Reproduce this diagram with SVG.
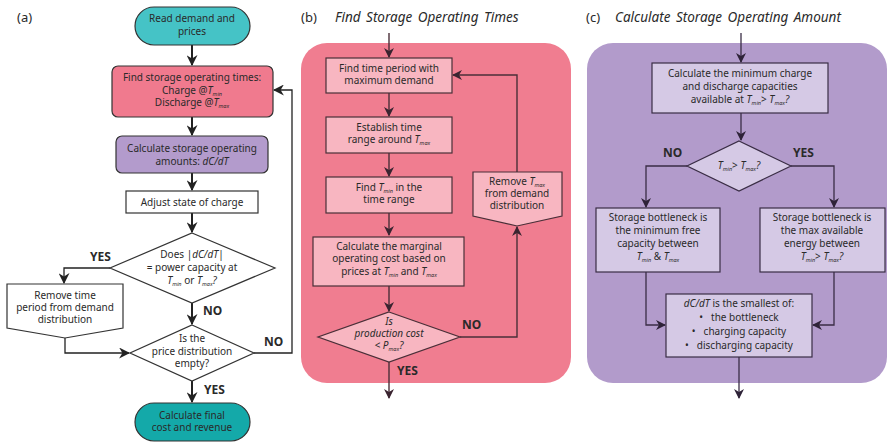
<svg xmlns="http://www.w3.org/2000/svg" width="887" height="442" viewBox="0 0 887 442">
  <defs>
    <style>
      text { font-family: "Noto Sans", "Open Sans", sans-serif; font-size: 10px; fill: #2a2a2a; text-anchor: middle; }
      .panel { font-size: 13px; text-anchor: start; }
      .title { font-size: 13.5px; font-style: italic; text-anchor: start; word-spacing: 2px; }
      .lbl { font-size: 12px; font-weight: bold; text-anchor: start; }
      .it { font-style: italic; }
      .sub { font-size: 5.5px; font-style: italic; }
      .edge-a { fill: none; stroke: #222; stroke-width: 2; }
      .edge-a-thin { fill: none; stroke: #222; stroke-width: 1.3; }
      .edge-b { fill: none; stroke: #4a2f38; stroke-width: 1.4; }
      .edge-c { fill: none; stroke: #3a2d45; stroke-width: 1.3; }
      .stroke-a { stroke: #333; stroke-width: 1.2; }
      .stroke-b { stroke: #4a2f38; stroke-width: 1.2; }
      .stroke-c { stroke: #3a2d45; stroke-width: 1.2; }
    </style>
    <marker id="arrA2" viewBox="0 0 10 10" refX="9" refY="5" markerWidth="11" markerHeight="11" markerUnits="userSpaceOnUse" orient="auto">
      <path d="M0,0 L10,5 L0,10 L3,5 z" fill="#222"/>
    </marker>
    <marker id="arrB" viewBox="0 0 10 10" refX="9" refY="5" markerWidth="10" markerHeight="10" markerUnits="userSpaceOnUse" orient="auto">
      <path d="M0,0 L10,5 L0,10 L3,5 z" fill="#3a2430"/>
    </marker>
    <marker id="arrC" viewBox="0 0 10 10" refX="9" refY="5" markerWidth="10" markerHeight="10" markerUnits="userSpaceOnUse" orient="auto">
      <path d="M0,0 L10,5 L0,10 L3,5 z" fill="#2e2338"/>
    </marker>
  </defs>

  <rect width="887" height="442" fill="#ffffff"/>

  <!-- panel labels and titles -->
  <text class="panel" x="17" y="22">(a)</text>
  <text class="panel" x="301" y="22">(b)</text>
  <text class="title" x="335" y="22">Find Storage Operating Times</text>
  <text class="panel" x="586" y="22">(c)</text>
  <text class="title" x="615" y="22">Calculate Storage Operating Amount</text>

  <!-- panel containers -->
  <rect id="panel-b" x="301" y="43" width="270" height="340" rx="26" fill="#f07d90"/>
  <rect id="panel-c" x="587" y="43" width="300" height="340" rx="26" fill="#b29bcb"/>

  <!-- connectors -->
  <g id="connectors">
    <!-- panel (a) -->
    <path class="edge-a" d="M192,45 V65" marker-end="url(#arrA2)"/>
    <path class="edge-a" d="M192,117 V135" marker-end="url(#arrA2)"/>
    <path class="edge-a" d="M192,173 V190" marker-end="url(#arrA2)"/>
    <path class="edge-a" d="M192,213 V232" marker-end="url(#arrA2)"/>
    <path class="edge-a-thin" d="M110,268 H64 V283" marker-end="url(#arrA2)"/>
    <path class="edge-a" d="M192,303 V324" marker-end="url(#arrA2)"/>
    <path class="edge-a-thin" d="M65,338 V353 H129" marker-end="url(#arrA2)"/>
    <path class="edge-a-thin" d="M254,353 H292 V90 H274" marker-end="url(#arrA2)"/>
    <path class="edge-a" d="M192,381 V402" marker-end="url(#arrA2)"/>
    <!-- panel (b) -->
    <path class="edge-b" d="M389,33 V57" marker-end="url(#arrB)"/>
    <path class="edge-b" d="M389,93 V116" marker-end="url(#arrB)"/>
    <path class="edge-b" d="M389,153 V176" marker-end="url(#arrB)"/>
    <path class="edge-b" d="M389,213 V235" marker-end="url(#arrB)"/>
    <path class="edge-b" d="M389,286 V311" marker-end="url(#arrB)"/>
    <path class="edge-b" d="M460,337 H517 V227" marker-end="url(#arrB)"/>
    <path class="edge-b" d="M517,172 V75 H453" marker-end="url(#arrB)"/>
    <path class="edge-b" d="M389,362 V398" marker-end="url(#arrB)"/>
    <!-- panel (c) -->
    <path class="edge-c" d="M741,33 V62" marker-end="url(#arrC)"/>
    <path class="edge-c" d="M741,113 V140" marker-end="url(#arrC)"/>
    <path class="edge-c" d="M687,166 H646 V207" marker-end="url(#arrC)"/>
    <path class="edge-c" d="M791,166 H834 V207" marker-end="url(#arrC)"/>
    <path class="edge-c" d="M646,272 V325 H665" marker-end="url(#arrC)"/>
    <path class="edge-c" d="M834,272 V325 H813" marker-end="url(#arrC)"/>
    <path class="edge-c" d="M739,357 V398" marker-end="url(#arrC)"/>
  </g>

  <!-- edge labels -->
  <text class="lbl" x="90" y="261">YES</text>
  <text class="lbl" x="203" y="315">NO</text>
  <text class="lbl" x="264" y="346">NO</text>
  <text class="lbl" x="204" y="394">YES</text>
  <text class="lbl" x="462" y="329">NO</text>
  <text class="lbl" x="397" y="375">YES</text>
  <text class="lbl" x="663" y="157">NO</text>
  <text class="lbl" x="793" y="157">YES</text>

  <!-- ===== panel (a) nodes ===== -->
  <g id="a-start">
    <rect x="135" y="7" width="115" height="38" rx="19" fill="#45c3c6" class="stroke-a"/>
    <text x="192" y="22">Read demand and</text>
    <text x="192" y="35">prices</text>
  </g>
  <g id="a-find-times">
    <rect x="112" y="66" width="161" height="51" rx="6" fill="#f07a8e" class="stroke-a"/>
    <text x="192" y="81">Find storage operating times:</text>
    <text x="192" y="94">Charge @<tspan class="it">T</tspan><tspan class="sub" dy="2">min</tspan></text>
    <text x="192" y="106">Discharge @<tspan class="it">T</tspan><tspan class="sub" dy="2">max</tspan></text>
  </g>
  <g id="a-calc-amounts">
    <rect x="116" y="136" width="152" height="37" rx="6" fill="#b39bcc" class="stroke-a"/>
    <text x="192" y="152">Calculate storage operating</text>
    <text x="192" y="165">amounts: <tspan class="it">dC/dT</tspan></text>
  </g>
  <g id="a-adjust">
    <rect x="126" y="191" width="132" height="22" fill="#ffffff" class="stroke-a"/>
    <text x="192" y="206">Adjust state of charge</text>
  </g>
  <g id="a-power-check">
    <polygon points="192,233 275,268 192,303 110,268" fill="#ffffff" class="stroke-a"/>
    <text x="192" y="258">Does |<tspan class="it">dC/dT</tspan>|</text>
    <text x="192" y="271">= power capacity at</text>
    <text x="192" y="284"><tspan class="it">T</tspan><tspan class="sub" dy="2">min</tspan><tspan dy="-2"> or </tspan><tspan class="it">T</tspan><tspan class="sub" dy="2">max</tspan><tspan class="it" dy="-2">?</tspan></text>
  </g>
  <g id="a-remove">
    <polygon points="7,284 123,284 123,328 65,338 7,328" fill="#ffffff" class="stroke-a"/>
    <text x="65" y="299">Remove time</text>
    <text x="65" y="311">period from demand</text>
    <text x="65" y="323">distribution</text>
  </g>
  <g id="a-empty-check">
    <polygon points="192,325 254,353 192,381 130,353" fill="#ffffff" class="stroke-a"/>
    <text x="192" y="342">Is the</text>
    <text x="192" y="355">price distribution</text>
    <text x="192" y="367">empty?</text>
  </g>
  <g id="a-end">
    <rect x="135" y="403" width="115" height="38" rx="19" fill="#14a9a9" class="stroke-a"/>
    <text x="192" y="419">Calculate final</text>
    <text x="192" y="431">cost and revenue</text>
  </g>

  <!-- ===== panel (b) nodes ===== -->
  <g id="b-max-demand">
    <rect x="326" y="58" width="126" height="35" fill="#f8b6c1" class="stroke-b"/>
    <text x="389" y="72">Find time period with</text>
    <text x="389" y="84">maximum demand</text>
  </g>
  <g id="b-range">
    <rect x="326" y="117" width="126" height="36" fill="#f8b6c1" class="stroke-b"/>
    <text x="389" y="131">Establish time</text>
    <text x="389" y="143">range around <tspan class="it">T</tspan><tspan class="sub" dy="2">max</tspan></text>
  </g>
  <g id="b-find-tmin">
    <rect x="326" y="177" width="126" height="36" fill="#f8b6c1" class="stroke-b"/>
    <text x="389" y="191">Find <tspan class="it">T</tspan><tspan class="sub" dy="2">min</tspan><tspan dy="-2"> in the</tspan></text>
    <text x="389" y="203">time range</text>
  </g>
  <g id="b-marginal">
    <rect x="313" y="237" width="151" height="49" fill="#f8b6c1" class="stroke-b"/>
    <text x="389" y="250">Calculate the marginal</text>
    <text x="389" y="262">operating cost based on</text>
    <text x="389" y="275">prices at <tspan class="it">T</tspan><tspan class="sub" dy="2">min</tspan><tspan dy="-2"> and </tspan><tspan class="it">T</tspan><tspan class="sub" dy="2">max</tspan></text>
  </g>
  <g id="b-cost-check">
    <polygon points="389,312 460,337 389,362 318,337" fill="#f8b6c1" class="stroke-b"/>
    <text class="it" x="389" y="325">Is</text>
    <text class="it" x="389" y="337">production cost</text>
    <text class="it" x="389" y="349">&lt; P<tspan class="sub" dy="2">max</tspan><tspan dy="-2">?</tspan></text>
  </g>
  <g id="b-remove">
    <polygon points="473,172 562,172 562,216 517,226 473,216" fill="#f8b6c1" class="stroke-b"/>
    <text x="517" y="185">Remove <tspan class="it">T</tspan><tspan class="sub" dy="2">max</tspan></text>
    <text x="517" y="197">from demand</text>
    <text x="517" y="209">distribution</text>
  </g>

  <!-- ===== panel (c) nodes ===== -->
  <g id="c-min-capacity">
    <rect x="652" y="63" width="176" height="50" fill="#d5c9e5" class="stroke-c"/>
    <text x="740" y="77">Calculate the minimum charge</text>
    <text x="740" y="90">and discharge capacities</text>
    <text x="740" y="103">available at <tspan class="it">T</tspan><tspan class="sub" dy="2">min</tspan><tspan dy="-2">&gt; </tspan><tspan class="it">T</tspan><tspan class="sub" dy="2">max</tspan><tspan class="it" dy="-2">?</tspan></text>
  </g>
  <g id="c-compare">
    <polygon points="739,141 791,166 739,191 687,166" fill="#d5c9e5" class="stroke-c"/>
    <text x="739" y="169"><tspan class="it">T</tspan><tspan class="sub" dy="2">min</tspan><tspan dy="-2">&gt; </tspan><tspan class="it">T</tspan><tspan class="sub" dy="2">max</tspan><tspan class="it" dy="-2">?</tspan></text>
  </g>
  <g id="c-free-capacity">
    <rect x="596" y="208" width="124" height="64" fill="#d5c9e5" class="stroke-c"/>
    <text x="658" y="221">Storage bottleneck is</text>
    <text x="658" y="234">the minimum free</text>
    <text x="658" y="247">capacity between</text>
    <text x="658" y="260"><tspan class="it">T</tspan><tspan class="sub" dy="2">min</tspan><tspan dy="-2"> &amp; </tspan><tspan class="it">T</tspan><tspan class="sub" dy="2">max</tspan></text>
  </g>
  <g id="c-available-energy">
    <rect x="760" y="208" width="125" height="64" fill="#d5c9e5" class="stroke-c"/>
    <text x="822" y="221">Storage bottleneck is</text>
    <text x="822" y="234">the max available</text>
    <text x="822" y="247">energy between</text>
    <text x="822" y="260"><tspan class="it">T</tspan><tspan class="sub" dy="2">min</tspan><tspan dy="-2">&gt; </tspan><tspan class="it">T</tspan><tspan class="sub" dy="2">max</tspan><tspan class="it" dy="-2">?</tspan></text>
  </g>
  <g id="c-smallest">
    <rect x="666" y="294" width="146" height="63" fill="#d5c9e5" class="stroke-c"/>
    <text x="739" y="307"><tspan class="it">dC/dT</tspan> is the smallest of:</text>
    <text x="739" y="321">•<tspan dx="8">the bottleneck</tspan></text>
    <text x="739" y="335">•<tspan dx="8">charging capacity</tspan></text>
    <text x="739" y="349">•<tspan dx="8">discharging capacity</tspan></text>
  </g>
</svg>
